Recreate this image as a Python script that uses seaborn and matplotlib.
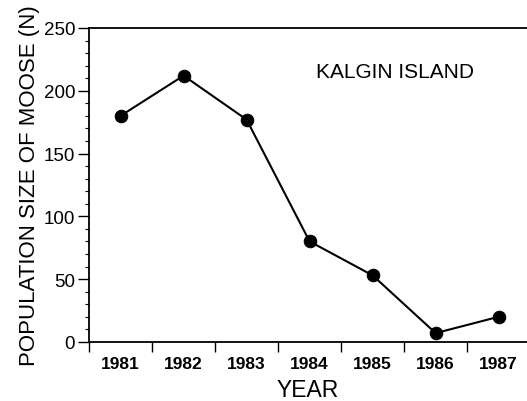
import seaborn as sns
import matplotlib.pyplot as plt
import pandas as pd
import numpy as np

years = [1981, 1982, 1983, 1984, 1985, 1986, 1987]
moose = [180, 212, 177, 80, 53, 7, 20]

df = pd.DataFrame({"year": years, "moose": moose})

sns.set_style("ticks")
plt.rcParams["font.family"] = ["Liberation Sans", "DejaVu Sans"]
plt.rcParams["text.color"] = "black"
plt.rcParams["axes.labelcolor"] = "black"
plt.rcParams["xtick.color"] = "black"
plt.rcParams["ytick.color"] = "black"

fig = plt.figure(figsize=(5.27, 4.02), dpi=100)
ax = fig.add_axes([0.169, 0.147, 0.831, 0.781])

sns.lineplot(x="year", y="moose", data=df, ax=ax, color="black", lw=1.5,
             marker="o", markersize=9, markeredgecolor="black")

ax.set_xlim(1980.5, 1987.45)
ax.set_ylim(0, 250)

# ticks at bin edges, labels centred in bins
ax.set_xticks(np.arange(1980.5, 1987.5, 1))
ax.set_xticklabels([])
ax.set_xticks(years, minor=True)
ax.set_xticklabels([str(y) for y in years], minor=True, fontsize=12.5, fontweight="bold")
ax.tick_params(axis="x", which="minor", length=0, pad=10)
ax.tick_params(axis="x", which="major", length=7, width=1, direction="out")

ax.set_yticks(np.arange(0, 251, 50))
ax.set_yticks(np.arange(0, 251, 10), minor=True)
ax.tick_params(axis="y", which="major", length=8, width=1, labelsize=13.5, pad=2)
ax.tick_params(axis="y", which="minor", length=3, width=0.8)

for s in ["left", "bottom", "top"]:
    ax.spines[s].set_linewidth(1.3)
    ax.spines[s].set_color("black")
ax.spines["right"].set_visible(False)

ax.set_xlabel("YEAR", fontsize=16.5, labelpad=5)
ax.set_ylabel("POPULATION SIZE OF MOOSE (N)", fontsize=16, labelpad=3)

ax.text(1985.35, 215, "KALGIN ISLAND", fontsize=15, ha="center", va="center")

plt.savefig("out.png", dpi=100)
